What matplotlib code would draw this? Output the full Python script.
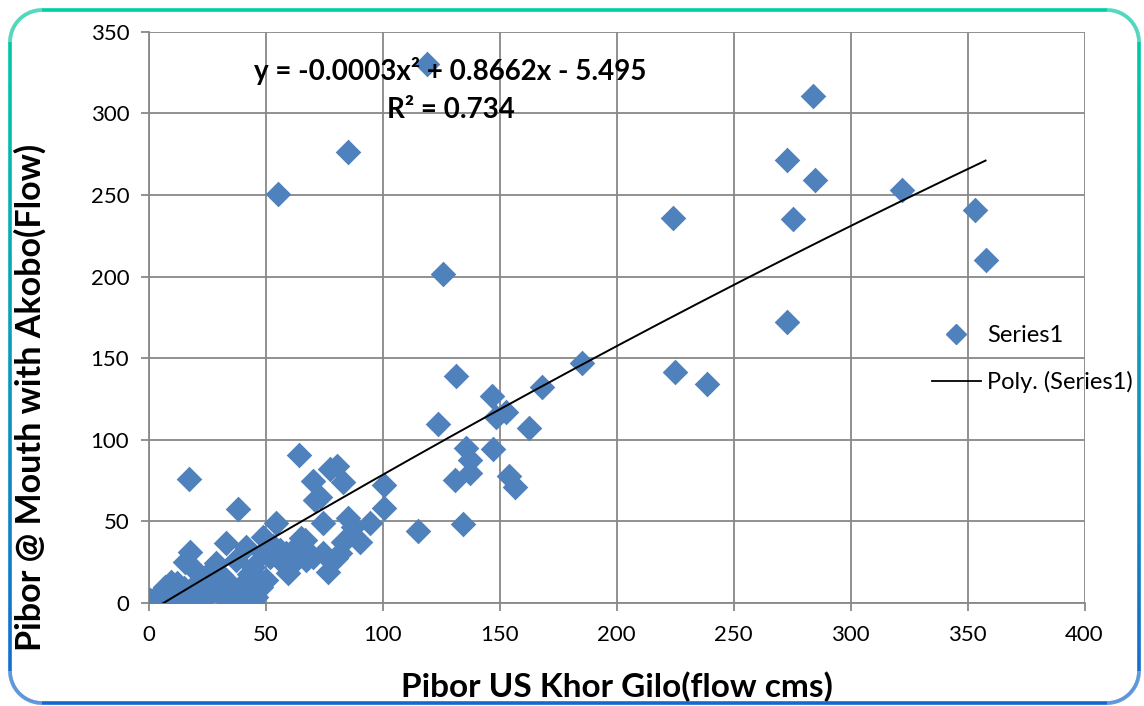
import matplotlib.pyplot as plt
from matplotlib.collections import LineCollection
from matplotlib.colors import LinearSegmentedColormap
from matplotlib.lines import Line2D
import numpy as np

plt.rcParams['font.family'] = ['Lato', 'DejaVu Sans']

# Flow data (cms)
khor_gilo = [118.8, 55.1, 85.0, 125.6, 224.0, 224.8, 238.5, 273.0, 283.8, 285.0,
             275.2, 273.0, 321.8, 353.4, 357.7, 185.0, 168.2, 131.5, 146.9, 148.6,
             152.6, 123.6, 162.5, 135.8, 147.1, 137.5, 137.5, 130.8, 154.0, 156.7,
             115.1, 134.3, 100.4, 100.4, 64.2, 70.2, 77.6, 80.5, 83.0, 71.0,
             73.0, 54.6, 74.5, 85.2, 94.4, 87.3, 65.3, 90.2, 83.0, 81.6,
             80.2, 74.5, 70.2, 67.4, 63.1, 58.8, 56.0, 51.7, 48.8, 59.5,
             76.6, 50.3, 48.2, 44.6, 17.2, 38.2, 33.2, 17.5, 15.4, 41.7,
             48.8, 28.9, 19.7, 37.5, 44.6, 9.7, 6.8, 24.7, 33.2, 28.9,
             0.4, 3.3, 10.4, 17.5, 23.2, 34.6, 41.7, 18.9, 13.2, 38.9,
             47.4, 46.0, 26.0, 4.7, 34.6, 12.0, 21.0, 30.0, 37.0, 8.0,
             15.0, 22.0, 57.0, 60.0, 62.0, 53.0, 66.7, 31.0, 43.0, 27.0]
akobo_mouth = [330.5, 250.8, 276.5, 201.7, 236.0, 141.6, 134.3, 271.6, 310.9, 259.3,
               235.4, 172.0, 253.2, 241.0, 210.3, 147.0, 132.3, 139.2, 126.9, 113.9,
               117.3, 109.6, 107.1, 94.8, 94.4, 87.3, 79.9, 75.4, 77.5, 71.3,
               44.1, 48.2, 72.3, 58.0, 90.9, 75.0, 82.0, 84.0, 74.4, 63.0,
               65.2, 48.9, 48.9, 51.9, 48.9, 46.8, 39.6, 37.6, 37.6, 30.5,
               27.4, 30.5, 28.4, 26.4, 27.4, 30.5, 32.5, 28.4, 30.5, 18.2,
               19.2, 14.1, 10.0, 0.0, 75.8, 57.6, 36.6, 31.5, 25.3, 34.5,
               40.6, 24.3, 20.2, 26.4, 22.3, 13.1, 10.0, 14.1, 14.1, 10.0,
               1.8, 0.8, 1.8, 3.0, 1.8, 1.8, 3.9, 10.0, 6.9, 10.0,
               14.1, 3.9, 5.9, 5.9, 8.0, 12.0, 12.0, 6.0, 4.0, 3.0,
               9.0, 8.0, 25.0, 22.0, 33.0, 35.0, 38.6, 17.0, 18.0, 20.0]

# Poly trendline (order 2)
trend_coef = [-0.00026, 0.8662, -5.495]
trend_start, trend_end = 5.4, 357.7
equation_text = "y = -0.0003x² + 0.8662x - 5.495"
r2_text = "R² = 0.734"

fig = plt.figure(figsize=(11.44, 7.06), dpi=100)
ax = fig.add_axes([0.130, 0.146, 0.818, 0.809])

grid_col = '#888888'
ax.scatter(khor_gilo, akobo_mouth, marker='D', s=170, color='#4F81BD', zorder=3, linewidths=0)

tx = np.linspace(trend_start, trend_end, 200)
ax.plot(tx, np.polyval(trend_coef, tx), color='black', lw=1.4, zorder=4)

ax.set_xlim(0, 400)
ax.set_ylim(0, 350)
ax.set_xticks(np.arange(0, 401, 50))
ax.set_yticks(np.arange(0, 351, 50))
ax.grid(True, color=grid_col, lw=1.3)
ax.set_axisbelow(True)
for s in ['top', 'right']:
    ax.spines[s].set_visible(False)
for s in ['left', 'bottom']:
    ax.spines[s].set_color(grid_col)
    ax.spines[s].set_linewidth(1.3)
ax.tick_params(axis='both', direction='out', length=6, width=1.3, color=grid_col,
               labelsize=16, pad=8)
ax.tick_params(axis='x', pad=10)

ax.set_xlabel("Pibor US Khor Gilo(flow cms)", fontsize=24, fontweight='bold')
ax.set_ylabel("Pibor @ Mouth with Akobo(Flow)", fontsize=24.5, fontweight='bold')
ax.xaxis.set_label_coords(0.5, -0.147)
ax.yaxis.set_label_coords(-0.127, 0.36)
ax.xaxis.label.set_va('center')
ax.yaxis.label.set_va('center')

ax.text(129, 326, equation_text, ha='center', va='center', fontsize=20, fontweight='bold', zorder=5)
ax.text(129, 302, r2_text, ha='center', va='center', fontsize=20, fontweight='bold', zorder=5)

# legend sits over the right part of the plot, no frame
handles = [Line2D([], [], marker='D', ls='none', color='#4F81BD', markersize=10),
           Line2D([], [], color='black', lw=1.3)]
fig.legend(handles, ['Series1', 'Poly. (Series1)'], loc='upper left',
           bbox_to_anchor=(0.804, 0.556), frameon=False, fontsize=17, borderpad=0,
           handlelength=2.1, handletextpad=0.25, labelspacing=1.05)

# rounded border with teal -> blue gradient
W, H, r = 1144.0, 706.0, 32.0
x0, x1, y0, y1 = 10.0, 1139.0, 10.0, 703.0
pts = []
def arc(cx, cy, a0, a1):
    for a in np.linspace(np.radians(a0), np.radians(a1), 20):
        pts.append((cx + r * np.cos(a), cy + r * np.sin(a)))
arc(x0 + r, y0 + r, 180, 270)
arc(x1 - r, y0 + r, 270, 360)
arc(x1 - r, y1 - r, 0, 90)
arc(x0 + r, y1 - r, 90, 180)
pts.append(pts[0])
pts = np.array(pts)
fine = []
for a, b in zip(pts[:-1], pts[1:]):
    for t in np.linspace(0, 1, 30, endpoint=False):
        fine.append(a + (b - a) * t)
fine.append(pts[-1])
fine = np.array(fine)
fine[:, 0] /= W
fine[:, 1] = 1 - fine[:, 1] / H
segs = np.stack([fine[:-1], fine[1:]], axis=1)
cmap = LinearSegmentedColormap.from_list('edge', ['#1468D0', '#00CFA3'])
lc = LineCollection(segs, cmap=cmap, linewidths=2.6, transform=fig.transFigure)
lc.set_array(segs[:, :, 1].mean(axis=1))
lc.set_clim(0, 1)
fig.add_artist(lc)

fig.savefig('out.png', dpi=100)
